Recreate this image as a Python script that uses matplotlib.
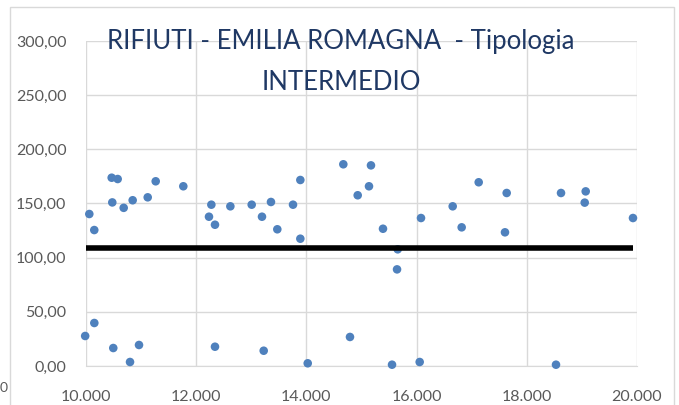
import matplotlib
matplotlib.use("Agg")
import matplotlib.pyplot as plt
from matplotlib.patches import Rectangle
from matplotlib.ticker import FuncFormatter

# Population (x) vs kg per inhabitant (y) for municipalities of type "INTERMEDIO"
pop = [
    10060, 10150, 10466, 10575, 10477, 10684, 10847, 11120, 11265, 11766,
    12275, 12232, 12341, 12620, 13007, 13194, 13357, 13472, 13757, 13890, 13890,
    14670, 15172, 15136, 14931, 15390, 15657, 15645, 16080,
    16655, 17127, 16818, 17635, 17604, 18621, 19069, 19051, 19927,
    9985, 10151, 10495, 10962, 10799, 12341, 13225, 14024, 14791,
    15554, 16056, 18530,
]
values = [
    140.3, 125.5, 173.8, 172.6, 151.0, 146.0, 153.0, 155.7, 170.5, 165.9,
    148.9, 137.8, 130.4, 147.4, 148.9, 137.8, 151.4, 126.2, 148.9, 171.7, 117.5,
    186.2, 185.2, 165.9, 157.6, 126.7, 107.7, 89.2, 136.6,
    147.4, 169.6, 128.0, 159.7, 123.4, 159.7, 161.2, 150.8, 136.6,
    27.7, 39.7, 16.6, 19.4, 3.7, 17.8, 14.1, 2.5, 26.8,
    1.2, 3.7, 1.2,
]
reference_level = 108.6
ref_span = [10000, 19927]

x_ticks = [10000, 12000, 14000, 16000, 18000, 20000]
y_ticks = [0, 50, 100, 150, 200, 250, 300]
title_lines = ["RIFIUTI - EMILIA ROMAGNA  - Tipologia", "INTERMEDIO"]

W, H = 679, 405
fig = plt.figure(figsize=(W / 100, H / 100), dpi=100)
fig.patch.set_facecolor("white")

# chart frame
fig.patches.append(Rectangle((10 / W, -0.02), (674 - 10) / W, 1.02 - 7 / H,
                             transform=fig.transFigure, fill=False,
                             edgecolor="#D9D9D9", linewidth=1.0))

ax = fig.add_axes([86 / W, (H - 366) / H, (637 - 86) / W, (366 - 41) / H])
ax.set_xlim(x_ticks[0], x_ticks[-1])
ax.set_ylim(y_ticks[0], y_ticks[-1])
ax.set_xticks(x_ticks)
ax.set_yticks(y_ticks)

def thousands(v, _):
    return f"{int(v):,}".replace(",", ".")

def decimals(v, _):
    return f"{v:.2f}".replace(".", ",")

ax.xaxis.set_major_formatter(FuncFormatter(thousands))
ax.yaxis.set_major_formatter(FuncFormatter(decimals))

ax.grid(True, color="#D9D9D9", linewidth=1.0)
ax.set_axisbelow(True)
for side in ("top", "right", "left"):
    ax.spines[side].set_visible(False)
ax.spines["bottom"].set_color("#D9D9D9")
ax.tick_params(length=0, labelsize=11.5, labelcolor="#595959")
ax.tick_params(axis="y", pad=14)
ax.tick_params(axis="x", pad=17)
for lab in ax.get_xticklabels() + ax.get_yticklabels():
    lab.set_fontfamily("Lato")

ax.scatter(pop, values, s=38, color="#4F81BD", edgecolors="none",
           zorder=3, clip_on=False)
ax.plot(ref_span, [reference_level, reference_level], color="black",
        linewidth=4, zorder=4, solid_capstyle="butt")

for text, yc in zip(title_lines, (42, 83)):
    fig.text(341 / W, 1 - yc / H, text, ha="center", va="center",
             fontsize=18.5, fontfamily="Lato", color="#1F3864")

# partial label at the left edge
fig.text(0, 1 - 388 / H, "0", ha="left", va="center", fontsize=10,
         fontfamily="Lato", color="#595959")

fig.savefig("out.png", dpi=100)
